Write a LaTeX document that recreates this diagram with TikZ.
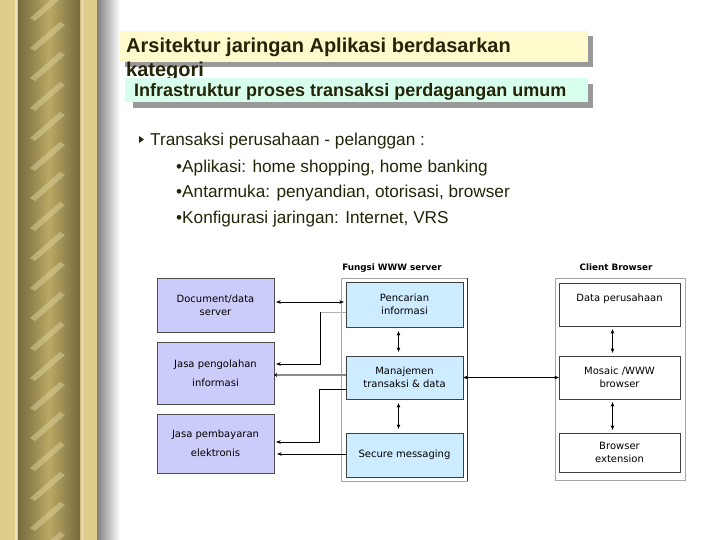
\documentclass[tikz,border=0pt]{standalone}
\usepackage{fontspec}
\setmainfont{Liberation Sans}
\newfontfamily\diagfont{DejaVu Sans}
\usetikzlibrary{arrows.meta}
\definecolor{gold}{RGB}{222,206,138}
\definecolor{rope}{RGB}{118,106,62}
\definecolor{ropemid}{RGB}{186,168,100}
\definecolor{ink}{RGB}{36,36,8}
\definecolor{lavender}{RGB}{204,204,250}
\definecolor{skyblue}{RGB}{206,236,255}
\definecolor{lemon}{RGB}{255,250,204}
\definecolor{mint}{RGB}{216,255,238}
\begin{document}
\begin{tikzpicture}[x=1pt,y=-1pt,>={Stealth[length=4.5pt,width=3.5pt]},
  lbox/.style={draw=black!70,fill=lavender,minimum width=117pt,align=center,font=\diagfont\fontsize{10}{19}\selectfont},
  cbox/.style={draw=black!75,fill=skyblue,minimum width=117pt,align=center,font=\diagfont\fontsize{10}{13}\selectfont},
  wbox/.style={draw=black!75,fill=white,minimum width=121pt,align=center,font=\diagfont\fontsize{10}{13}\selectfont},
  hdr/.style={font=\diagfont\bfseries\fontsize{8.8}{11}\selectfont},
  line/.style={anchor=base west,inner sep=0,text=ink,font=\fontsize{17.2}{20}\selectfont}]
\useasboundingbox (0,0) rectangle (720,540);
\fill[gold] (0,0) rectangle (97,540);
\shade[left color=rope,right color=rope,middle color=ropemid] (18,0) rectangle (80,540);
\begin{scope}
\clip (26,0) rectangle (72,540);
\foreach \k in {0,...,18}
  \fill[gold!80!white,opacity=0.45] (30,30*\k+18) -- (60,30*\k-8) -- (65,30*\k-5) -- (35,30*\k+21) -- cycle;
\end{scope}
\draw[gold!55!white,line width=1.5pt] (16,0) -- (16,540) (82.5,0) -- (82.5,540);
\shade[left color=black!50,right color=white] (97,0) rectangle (120,540);

\fill[black!40] (125,36) rectangle (593,67);
\fill[lemon] (120,31) rectangle (588,62);
\node[anchor=base west,inner sep=0,align=left,text=ink,font=\bfseries\fontsize{20}{24}\selectfont] (title) at (126,77) {Arsitektur jaringan Aplikasi berdasarkan\\kategori};
\fill[black!40] (133,84) rectangle (593,108);
\fill[mint] (125,78) rectangle (588,102);
\node[anchor=base west,inner sep=0,text=ink,font=\bfseries\fontsize{18}{20}\selectfont] (subtitle) at (134,97) {Infrastruktur proses transaksi perdagangan umum};

\fill[ink] (139,136) -- (144,139.5) -- (139,143) -- cycle;
\node[line] (lead) at (150,146) {Transaksi perusahaan - pelanggan :};
\node[line] (app) at (176,173) {•Aplikasi: home shopping, home banking};
\node[line] (ui) at (176,198) {•Antarmuka: penyandian, otorisasi, browser};
\node[line] (net) at (176,223) {•Konfigurasi jaringan: Internet, VRS};

\draw[black!35] (341,278) rectangle (467,481);
\draw[black!80] (467,278) -- (467,481);
\draw[black!35] (555,278) rectangle (685,480);
\node[hdr] (wwwhdr) at (392,268) {Fungsi WWW server};
\node[hdr] (clienthdr) at (616,267) {Client Browser};
\node[lbox,minimum height=54pt,font=\diagfont\fontsize{10}{13}\selectfont] (docsrv) at (215.5,305) {Document/data\\server};
\node[lbox,minimum height=62pt] (olah) at (215.5,373) {Jasa pengolahan\\informasi};
\node[lbox,minimum height=59pt] (bayar) at (215.5,443.5) {Jasa pembayaran\\elektronis};
\node[cbox,minimum height=45pt] (cari) at (404.5,304.5) {Pencarian\\informasi};
\node[cbox,minimum height=43pt] (kelola) at (404.5,377.5) {Manajemen\\transaksi \& data};
\node[cbox,minimum height=44pt] (pesan) at (404.5,455) {Secure messaging};
\node[wbox,minimum height=43pt,label={[anchor=north,yshift=-8pt,font=\diagfont\fontsize{10}{13}\selectfont]north:Data perusahaan}] (data) at (619.5,304.5) {};
\node[wbox,minimum height=43pt] (mosaic) at (619.5,377.5) {Mosaic /WWW\\browser};
\node[wbox,minimum height=39pt] (ext) at (619.5,452.5) {Browser\\extension};

\coordinate (bend1) at (320,312);
\coordinate (bend2) at (319,389);
\draw[<->,shorten <=2pt,shorten >=2pt] ([yshift=3pt]docsrv.east) -- ([yshift=3pt]docsrv.east -| cari.west);
\draw[black!30] (cari.west |- bend1) -- (bend1);
\draw[->,shorten >=2pt] (bend1) |- ([yshift=9pt]olah.east);
\draw[black!45,line width=2.2pt,-{Stealth[length=3pt,width=4pt,color=black]}] ([yshift=-2pt]olah.east -| kelola.west) -- ([yshift=-2pt]olah.east);
\draw[->,shorten >=2pt] (kelola.west |- bend2) -- (bend2) |- ([yshift=1.5pt]bayar.east);
\draw[->,shorten >=3pt] ([yshift=1pt]pesan.west) -- ([yshift=1pt]pesan.west -| bayar.east);
\draw[<->,shorten <=4pt,shorten >=4pt] ([xshift=-6pt]cari.south) -- ([xshift=-6pt]kelola.north);
\draw[<->,shorten <=4pt,shorten >=4pt] ([xshift=-6pt]kelola.south) -- ([xshift=-6pt]pesan.north);
\draw[<->] (kelola.east) -- (mosaic.west);
\draw[<->,shorten <=3pt,shorten >=3pt] ([xshift=-7pt]data.south) -- ([xshift=-7pt]mosaic.north);
\draw[<->,shorten <=3pt,shorten >=3pt] ([xshift=-7pt]mosaic.south) -- ([xshift=-7pt]ext.north);
\end{tikzpicture}
\end{document}
